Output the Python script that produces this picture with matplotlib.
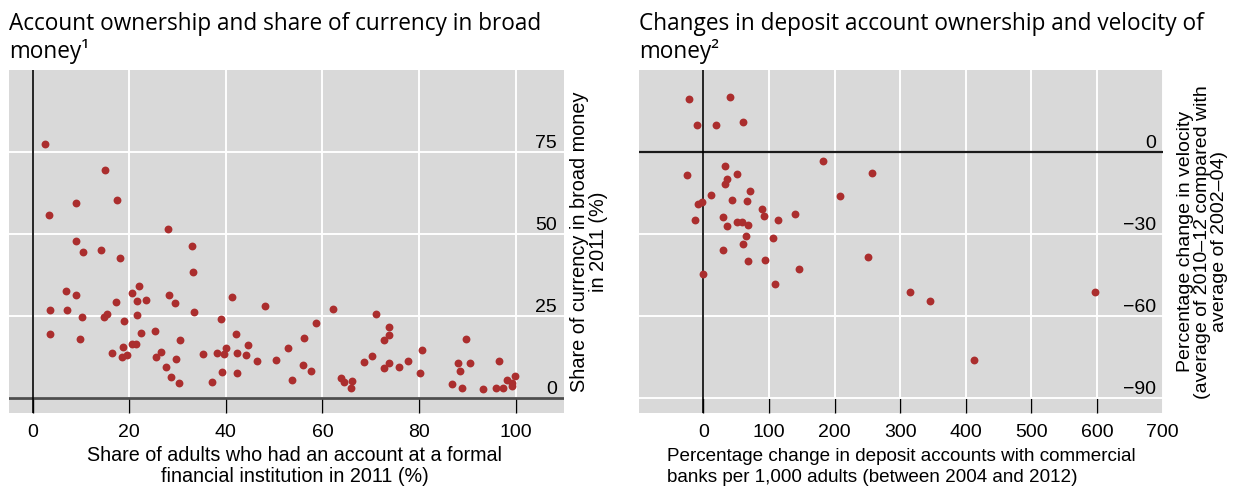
import matplotlib
matplotlib.use("Agg")
import matplotlib.pyplot as plt

plt.rcParams['font.family'] = ['Liberation Sans', 'DejaVu Sans']

# left panel: account ownership (%) vs currency share of broad money (%)
own_x = [2.5, 15.0, 9.0, 17.5, 3.3, 28.1, 33.0, 9.0, 10.5, 14.2, 18.0, 33.1, 6.9, 9.0,
         3.6, 7.2, 10.3, 14.8, 15.3, 17.2, 18.9, 20.5, 22.0, 21.7, 23.5, 21.7, 28.2, 29.4,
         33.3, 3.6, 9.7, 22.4, 25.3, 30.4, 18.8, 16.5, 18.4, 19.5, 20.5, 21.4, 25.5, 26.6,
         29.7, 27.5, 28.6, 30.2,
         41.3, 48.2, 62.2, 39.0, 58.7, 42.1, 56.2, 44.6, 40.0, 35.3, 38.2, 39.6, 42.4, 44.2,
         46.4, 50.4, 52.8, 55.9, 57.7, 39.2, 42.2, 37.1, 53.7, 63.8, 64.5, 66.2, 65.9, 68.6,
         71.0, 73.8, 73.8, 72.7, 70.2, 73.7, 72.7, 75.9, 77.8, 80.7, 80.2, 89.8, 88.1, 90.6,
         88.5, 96.5, 86.9, 88.8, 93.2, 95.9, 97.3, 98.3, 99.2, 99.2, 99.8]
cur_y = [77.3, 69.5, 59.4, 60.4, 55.6, 51.5, 46.3, 47.7, 44.4, 45.1, 42.5, 38.4, 32.6, 31.3,
         26.8, 26.6, 24.7, 24.5, 25.5, 29.2, 23.4, 32.0, 34.0, 29.4, 29.7, 25.2, 31.4, 28.9,
         26.2, 19.4, 18.0, 19.8, 20.4, 17.7, 15.4, 13.5, 12.5, 12.9, 16.3, 16.3, 12.4, 13.8,
         11.8, 9.5, 6.2, 4.6,
         30.7, 28.0, 27.1, 24.1, 22.9, 19.3, 18.3, 16.1, 15.2, 13.4, 13.7, 13.2, 13.6, 13.1,
         11.2, 11.5, 15.2, 10.1, 8.1, 8.0, 7.6, 4.9, 5.5, 6.0, 4.9, 5.1, 2.9, 11.0,
         25.5, 21.6, 19.0, 17.6, 12.8, 10.6, 9.1, 9.3, 11.1, 14.5, 7.6, 17.9, 10.6, 10.6,
         8.1, 11.1, 4.3, 3.0, 2.7, 2.9, 3.0, 5.5, 4.4, 3.6, 6.7]

# right panel: change in deposit accounts (%) vs change in velocity (%)
dep_x = [-21.6, 40.9, -9.9, 19.1, 60.7, 182.6, 32.8, -24.7, 51.5, 35.4, 33.8, 71.4, 11.9,
         43.0, 66.3, -8.8, -1.8, -12.5, 29.3, 35.4, 50.6, 59.1, 68.3, 89.2, 92.7, 113.1,
         139.5, 65.8, 60.2, 106.4, 29.3, 68.3, 93.8, 146.1, -0.8, 109.0, 257.3, 208.5,
         251.2, 314.3, 345.3, 412.8, 597.3]
vel_y = [19.4, 20.1, 10.0, 9.8, 10.9, -3.4, -5.2, -8.4, -8.0, -9.9, -11.7, -14.4, -15.7,
         -17.4, -18.0, -18.9, -18.4, -24.7, -23.8, -26.9, -25.7, -25.7, -26.7, -20.7, -23.5,
         -24.9, -22.8, -30.7, -33.7, -31.3, -36.0, -39.7, -39.5, -42.9, -44.7, -48.4, -7.8,
         -16.0, -38.3, -51.0, -54.6, -75.9, -51.2]

left_xticks = [0, 20, 40, 60, 80, 100]
left_yticks = [0, 25, 50, 75]
right_xticks = [0, 100, 200, 300, 400, 500, 600, 700]
right_yticks = [-90, -60, -30, 0]

DOT = '#ab2e2e'
BG = '#d9d9d9'
TITLE_FONT = ['Open Sans', 'DejaVu Sans']


def style_panel(ax, xticks, yticks):
    ax.set_facecolor(BG)
    for s in ax.spines.values():
        s.set_visible(False)
    ax.set_axisbelow(True)
    ax.grid(True, color='white', linewidth=1.4)
    ax.set_xticks(xticks)
    ax.set_yticks(yticks)
    ax.tick_params(axis='x', direction='in', length=11, width=1, color='black',
                   labelsize=14, pad=8)
    ax.yaxis.tick_right()
    ax.yaxis.set_label_position('right')
    ax.tick_params(axis='y', length=0, labelsize=14, pad=-5)
    plt.setp(ax.get_yticklabels(), ha='right', va='bottom')


fig = plt.figure(figsize=(12.39, 4.88), dpi=100)

ax1 = fig.add_axes([9 / 1239, 0.153, 555 / 1239, 0.7035])
ax1.set_xlim(-4.9, 110)
ax1.set_ylim(-4.75, 99.9)
style_panel(ax1, left_xticks, left_yticks)
ax1.axhline(0, color='#4d4d4d', linewidth=2.0, zorder=2)
ax1.axvline(0, color='black', linewidth=1.2, zorder=2)
ax1.scatter(own_x, cur_y, s=32, color=DOT, linewidths=0, zorder=3)
ax1.set_xlabel("Share of adults who had an account at a formal\nfinancial institution in 2011 (%)",
               fontsize=14.2, linespacing=1.15, labelpad=3)
ax1.xaxis.set_label_coords(0.515, -0.095)
ax1.xaxis.label.set_va('top')
ax1.set_ylabel("Share of currency in broad money\nin 2011 (%)", fontsize=14.3,
               linespacing=1.05, labelpad=4, rotation=90)
ax1.set_title("Account ownership and share of currency in broad\nmoney\u00b9", loc='left',
              fontsize=16.3, family=TITLE_FONT, pad=8.6, linespacing=1.15)

ax2 = fig.add_axes([639 / 1239, 0.153, 524 / 1239, 0.7035])
ax2.set_xlim(-98, 700.5)
ax2.set_ylim(-95.5, 29.9)
style_panel(ax2, right_xticks, right_yticks)
ax2.xaxis.get_major_ticks()[-1].tick1line.set_visible(False)
ax2.axhline(0, color='#1a1a1a', linewidth=1.6, zorder=2)
ax2.axvline(0, color='black', linewidth=1.2, zorder=2)
ax2.scatter(dep_x, vel_y, s=32, color=DOT, linewidths=0, zorder=3)
ax2.set_xlabel("Percentage change in deposit accounts with commercial\nbanks per 1,000 adults (between 2004 and 2012)",
               fontsize=13.6, linespacing=1.25, labelpad=5, multialignment='left')
ax2.set_ylabel("Percentage change in velocity\n(average of 2010\u201312 compared with\naverage of 2002\u201304)",
               fontsize=14, linespacing=1.0, labelpad=10, rotation=90)
ax2.set_title("Changes in deposit account ownership and velocity of\nmoney\u00b2", loc='left',
              fontsize=16.3, family=TITLE_FONT, pad=8.6, linespacing=1.15)

fig.savefig('out.png', dpi=100)
